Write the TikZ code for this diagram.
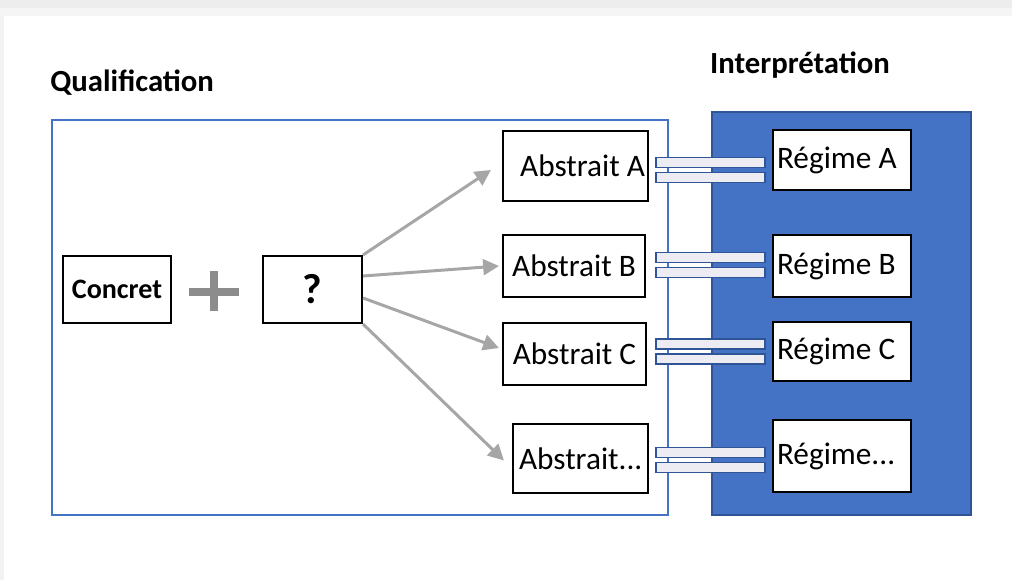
\documentclass[tikz,border=0pt]{standalone}
\usepackage{fontspec}
\setmainfont{Carlito}
\usepackage{tikz}
\usetikzlibrary{arrows.meta,calc,positioning}
\definecolor{qblue}{RGB}{68,114,196}
\definecolor{qdark}{RGB}{47,85,151}
\definecolor{arrgray}{RGB}{166,166,166}
\definecolor{plusgray}{RGB}{140,140,140}
\definecolor{barfill}{RGB}{236,236,242}
\newcommand{\bigfont}{\fontsize{17.8}{20}\selectfont}

\begin{document}
\begin{tikzpicture}[x=0.02cm,y=-0.02cm,
  box/.style={draw=black,line width=1.2pt,fill=white,inner sep=0pt,font=\bigfont},
  reg/.style={box,minimum width=2.76cm,text width=2.6cm,align=flush left},
  arr/.style={-{Triangle[length=9pt,width=9pt]},draw=arrgray,line width=1.7pt},
  bar/.style={draw=qdark,fill=barfill,line width=1.1pt},
  ttl/.style={font=\fontsize{17.5}{20}\selectfont\bfseries,inner sep=0pt}]
  \useasboundingbox (0,0) rectangle (1012,580);
  \fill[white] (0,0) rectangle (1012,580);
  \fill[black!7] (0,0) rectangle (1012,8);
  \fill[black!4] (0,8) rectangle (1012,16);
  \fill[black!5] (0,16) rectangle (4,580);
  % frames
  \draw[qblue,line width=1.2pt] (52,120) rectangle (668,515);
  \fill[qblue] (712,112) rectangle (971,515);
  \draw[qdark,line width=0.8pt] (712,112) rectangle (971,515);
  \node[ttl,anchor=west] (qual) at (50,83) {Qualification};
  \node[ttl] (interp) at (800,65) {Interprétation};
  % left part
  \node[box,font=\fontsize{16}{19}\selectfont\bfseries,minimum width=2.16cm,minimum height=1.34cm] (concret) at (117,289.5) {Concret};
  \node[box,font=\fontsize{24}{28}\selectfont\bfseries,minimum width=1.98cm,minimum height=1.34cm] (q) at (312.5,289.5) {?};
  \draw[plusgray,line width=4.5pt] (189,292) -- (239,292) (214,271) -- (214,311);
  % abstract boxes
  \node[box,minimum width=2.9cm,text width=2.78cm,align=flush right,minimum height=1.4cm] (absA) at (575.5,166) {Abstrait A};
  \node[box,minimum width=2.84cm,minimum height=1.24cm] (absB) at (574,266) {Abstrait B};
  \node[box,minimum width=2.86cm,minimum height=1.24cm] (absC) at (574.5,354) {Abstrait C};
  \node[box,minimum width=2.7cm,text width=2.46cm,align=flush right,minimum height=1.38cm] (absD) at (580.5,458.5) {Abstrait...\\[-3pt]};
  % regimes
  \node[reg,minimum height=1.2cm] (regA) at (842,160) {Régime A};
  \node[reg,minimum height=1.24cm] (regB) at (842,266) {Régime B};
  \node[reg,minimum height=1.18cm] (regC) at (842,351.5) {Régime C};
  \node[reg,minimum height=1.44cm] (regD) at (842,456) {Régime...\\[-3pt]};
  % arrows
  \draw[arr] (q.north east) -- ([xshift=-0.22cm,yshift=-0.08cm]absA.west);
  \draw[arr] ([yshift=0.27cm]q.east) -- ([xshift=-0.06cm]absB.west);
  \draw[arr] ([yshift=-0.17cm]q.east) -- ([xshift=-0.06cm,yshift=0.12cm]absC.west);
  \draw[arr] (q.south east) -- ([xshift=-0.16cm,yshift=-0.04cm]absD.west);
  % double bars
  \foreach \r/\y in {regA/169.5,regB/264.5,regC/351,regD/459.5} {
    \coordinate (m) at ($(\r.west|-0,\y)$);
    \draw[bar] ($(m)+(-116,-12)$) rectangle ($(m)+(-7,-2)$);
    \draw[bar] ($(m)+(-116,3)$) rectangle ($(m)+(-7,13)$);
  }
\end{tikzpicture}
\end{document}
